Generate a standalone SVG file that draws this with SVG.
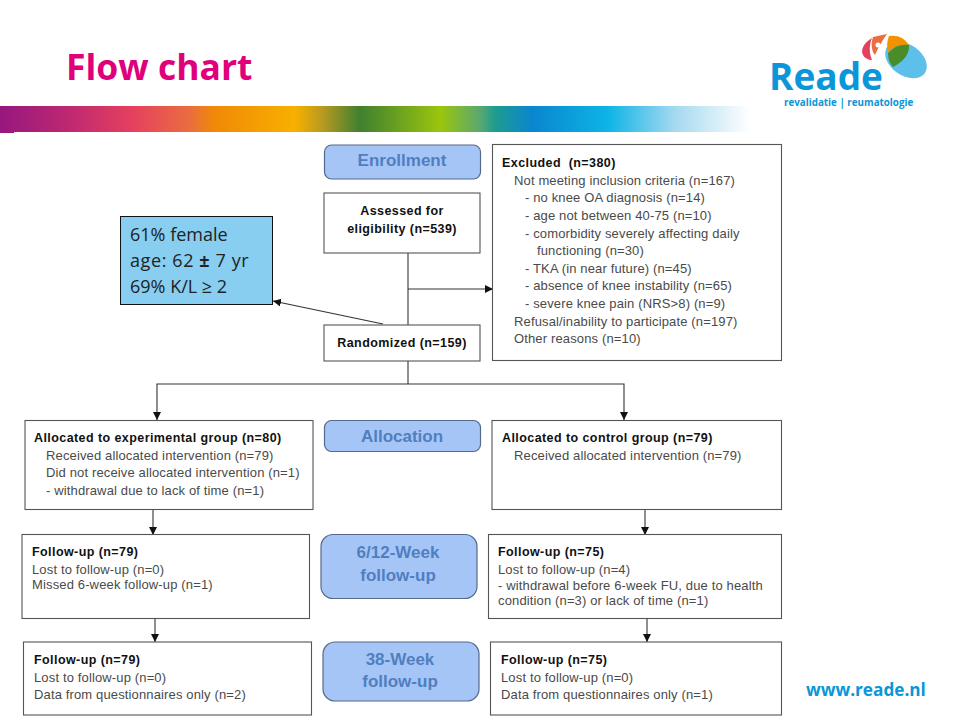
<svg xmlns="http://www.w3.org/2000/svg" width="960" height="720" viewBox="0 0 960 720">
<style>
text{font-family:"Liberation Sans",Arial,sans-serif;font-size:13px;letter-spacing:.14px;fill:#4a4a4a}
.b{font-weight:bold;fill:#111;font-size:12.5px;letter-spacing:.42px}
.box{fill:#fff;stroke:#555;stroke-width:1.1}
.pill{fill:#a6c5f7;stroke:#55698a;stroke-width:1.2}
.pt{font-weight:bold;fill:#4f7fc0;text-anchor:middle;font-size:17px;letter-spacing:0}
.con{fill:none;stroke:#333;stroke-width:1.1}
.note{font-family:"Open Sans","Noto Sans",sans-serif;font-size:18px;letter-spacing:0;fill:#222}
.brand{font-family:"Open Sans","Noto Sans",sans-serif;font-weight:bold;fill:#0a96d8;letter-spacing:0}
</style>
<defs>
<linearGradient id="band" x1="0" x2="1" y1="0" y2="0">
<stop offset="0" stop-color="#97177f"/><stop offset="0.09" stop-color="#bd2871"/><stop offset="0.177" stop-color="#e6405f"/><stop offset="0.253" stop-color="#ea6d3f"/><stop offset="0.287" stop-color="#f08a05"/><stop offset="0.393" stop-color="#f8b000"/><stop offset="0.43" stop-color="#b89a20"/><stop offset="0.48" stop-color="#3f8030"/><stop offset="0.587" stop-color="#9bc50d"/><stop offset="0.64" stop-color="#5aa870"/><stop offset="0.66" stop-color="#1e9c8f"/><stop offset="0.71" stop-color="#0a86cf"/><stop offset="0.81" stop-color="#0db4e6"/><stop offset="0.9" stop-color="#a5d9f0"/><stop offset="1" stop-color="#fff"/>
</linearGradient>
<marker id="a" markerUnits="userSpaceOnUse" markerWidth="9" markerHeight="9" refX="8" refY="4" orient="auto"><path d="M0 0L8 4L0 8Z" fill="#111"/></marker>
</defs>
<rect width="960" height="720" fill="#fff"/>
<text x="66" y="80" style="font-family:'Open Sans','Noto Sans',sans-serif;font-size:35.500px;font-weight:bold;fill:#e0007a;letter-spacing:0">Flow chart</text>
<rect x="0" y="106" width="750" height="26" fill="url(#band)"/>
<rect x="0" y="132" width="14" height="1" fill="#97177f"/>
<g id="logo">
<ellipse cx="906" cy="60" rx="23" ry="15.500" transform="rotate(35 906 60)" fill="#5cc0ea"/>
<path d="M889 36Q902 34 909 45Q898 43 888 52Q886 43 889 36Z" fill="#f39200"/>
<path d="M888 53Q897 43 909 45Q910 58 893 67Q888 62 888 53Z" fill="#4a8c2a"/>
<path d="M872 38C865 42 860 49 863 55C866 60 872 60 872 60C869 53 869 45 872 38Z" fill="#e6405f"/>
<path d="M873 37L887 34C882 41 878 48 875 55C871 50 871 43 873 37Z" fill="#ea6d3f"/>
<circle cx="878" cy="45" r="2.500" fill="#fff"/>
<text class="brand" x="769" y="90" style="font-size:37px">Reade</text>
<text class="brand" x="784" y="106" style="font-size:9.800px">revalidatie | reumatologie</text>
</g>
<text class="brand" x="806" y="696" style="font-size:17.200px">www.reade.nl</text>
<g id="connectors">
<path class="con" d="M408 253V325"/>
<path class="con" d="M408 289H493" marker-end="url(#a)"/>
<path class="con" d="M383 324L273 301" marker-end="url(#a)"/>
<path class="con" d="M408 361V384"/>
<path class="con" d="M408 384H157V420" marker-end="url(#a)"/>
<path class="con" d="M408 384H624V420" marker-end="url(#a)"/>
<path class="con" d="M153 510V535" marker-end="url(#a)"/>
<path class="con" d="M155 618V642" marker-end="url(#a)"/>
<path class="con" d="M645 510V535" marker-end="url(#a)"/>
<path class="con" d="M647 618V642" marker-end="url(#a)"/>
</g>
<g id="note"><rect x="120.500" y="216.500" width="152" height="88" fill="#87cef0" stroke="#111"/>
<text class="note" x="130" y="241">61% female</text><text class="note" x="130" y="267" style="letter-spacing:.6px">age: 62 <tspan font-weight="bold">±</tspan> 7 yr</text><text class="note" x="130" y="293">69% K/L ≥ 2</text></g>
<g id="enrollment"><rect class="pill" x="324.500" y="145" width="156" height="34" rx="7"/><text class="pt" x="402" y="166">Enrollment</text></g>
<g id="assessed"><rect class="box" x="324" y="193" width="156" height="60"/><text class="b" x="402" y="215" text-anchor="middle">Assessed for</text><text class="b" x="402" y="233" text-anchor="middle">eligibility (n=539)</text></g>
<g id="randomized"><rect class="box" x="324" y="325" width="156" height="36"/><text class="b" x="402" y="347" text-anchor="middle">Randomized (n=159)</text></g>
<g id="excluded"><rect class="box" x="492.500" y="144.500" width="289" height="216"/>
<text class="b" x="502" y="167" style="white-space:pre">Excluded  (n=380)</text>
<text x="514" y="185">Not meeting inclusion criteria (n=167)</text>
<text x="525" y="202">- no knee OA diagnosis (n=14)</text>
<text x="525" y="220">- age not between 40-75 (n=10)</text>
<text x="525" y="238">- comorbidity severely affecting daily</text>
<text x="537" y="255">functioning (n=30)</text>
<text x="525" y="273">- TKA (in near future) (n=45)</text>
<text x="525" y="290">- absence of knee instability (n=65)</text>
<text x="525" y="308">- severe knee pain (NRS&gt;8) (n=9)</text>
<text x="514" y="326">Refusal/inability to participate (n=197)</text>
<text x="514" y="343">Other reasons (n=10)</text></g>
<g id="alloc-exp"><rect class="box" x="25" y="420.500" width="288" height="89"/>
<text class="b" x="34" y="442">Allocated to experimental group (n=80)</text>
<text x="46" y="460">Received allocated intervention (n=79)</text>
<text x="46" y="477">Did not receive allocated intervention (n=1)</text>
<text x="46" y="495">- withdrawal due to lack of time (n=1)</text></g>
<g id="allocation"><rect class="pill" x="324.500" y="420.500" width="156" height="31" rx="7"/><text class="pt" x="402" y="442">Allocation</text></g>
<g id="alloc-ctl"><rect class="box" x="492" y="420.500" width="289.500" height="89"/>
<text class="b" x="502" y="442">Allocated to control group (n=79)</text>
<text x="514" y="460">Received allocated intervention (n=79)</text></g>
<g id="fu-exp-1"><rect class="box" x="22" y="534.500" width="287.500" height="84"/>
<text class="b" x="32" y="556">Follow-up (n=79)</text>
<text x="32" y="574">Lost to follow-up (n=0)</text>
<text x="32" y="589">Missed 6-week follow-up (n=1)</text></g>
<g id="week-6"><rect class="pill" x="321" y="534.500" width="156" height="64" rx="12"/><text class="pt" x="398" y="558">6/12-Week</text><text class="pt" x="398" y="581">follow-up</text></g>
<g id="fu-ctl-1"><rect class="box" x="488.500" y="534.500" width="293" height="84"/>
<text class="b" x="498" y="556">Follow-up (n=75)</text>
<text x="498" y="574">Lost to follow-up (n=4)</text>
<text x="498" y="590">- withdrawal before 6-week FU, due to health</text>
<text x="498" y="605">condition (n=3) or lack of time (n=1)</text></g>
<g id="fu-exp-2"><rect class="box" x="23.500" y="642" width="288" height="73"/>
<text class="b" x="34" y="664">Follow-up (n=79)</text>
<text x="34" y="682">Lost to follow-up (n=0)</text>
<text x="34" y="699">Data from questionnaires only (n=2)</text></g>
<g id="week-38"><rect class="pill" x="323" y="642" width="156" height="59" rx="12"/><text class="pt" x="400" y="665">38-Week</text><text class="pt" x="400" y="687">follow-up</text></g>
<g id="fu-ctl-2"><rect class="box" x="490.500" y="642" width="291" height="73"/>
<text class="b" x="501" y="664">Follow-up (n=75)</text>
<text x="501" y="682">Lost to follow-up (n=0)</text>
<text x="501" y="699">Data from questionnaires only (n=1)</text></g>
</svg>
